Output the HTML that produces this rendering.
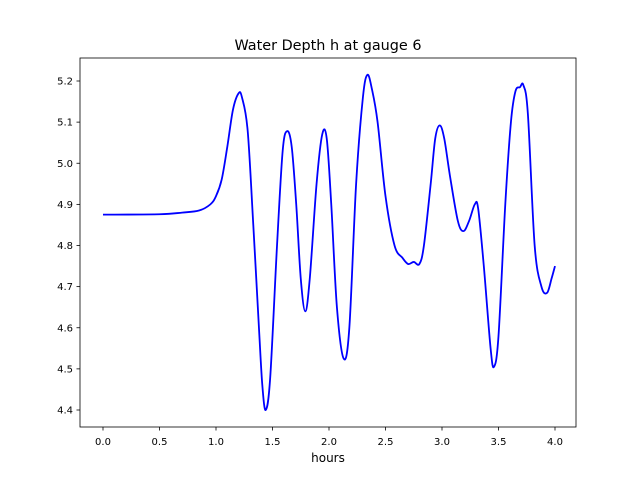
<!DOCTYPE html>
<html><head><meta charset="utf-8"><style>
body{margin:0;background:#fff}
svg{font-family:"DejaVu Sans","Liberation Sans",sans-serif}
</style></head><body>
<svg id="chart" width="640" height="480" viewBox="0 0 640 480">
<rect width="640" height="480" fill="#fff"/>
<text x="328" y="50" font-size="14.4" text-anchor="middle">Water Depth h at gauge 6</text>
<g id="xt"></g>
<g id="yt"></g>
<path id="line" fill="none" stroke="#0000ff" stroke-width="1.8"/>
<rect x="80" y="58" width="496" height="369" fill="none" stroke="#000" stroke-width="0.8"/>
<text x="328" y="462" font-size="12" text-anchor="middle">hours</text>
</svg>
<script>
const hours=[0,0.5,0.7,0.85,0.95,1.0,1.05,1.1,1.15,1.2,1.23,1.28,1.33,1.38,1.41,1.44,1.48,1.54,1.59,1.63,1.67,1.71,1.75,1.79,1.83,1.89,1.94,1.98,2.02,2.07,2.13,2.18,2.24,2.3,2.34,2.38,2.43,2.5,2.58,2.65,2.7,2.75,2.8,2.84,2.9,2.94,2.98,3.02,3.07,3.14,3.19,3.24,3.29,3.32,3.37,3.43,3.46,3.5,3.56,3.61,3.65,3.69,3.72,3.76,3.82,3.88,3.93,3.97,4.0];
const depth=[4.875,4.876,4.88,4.885,4.9,4.92,4.96,5.04,5.13,5.17,5.16,5.08,4.85,4.6,4.46,4.4,4.48,4.8,5.03,5.078,5.04,4.9,4.72,4.64,4.72,4.95,5.07,5.06,4.9,4.65,4.525,4.6,4.95,5.16,5.215,5.18,5.1,4.92,4.8,4.77,4.755,4.76,4.755,4.8,4.95,5.06,5.092,5.06,4.97,4.86,4.835,4.86,4.9,4.89,4.75,4.55,4.505,4.58,4.9,5.1,5.175,5.185,5.19,5.12,4.8,4.7,4.685,4.72,4.75];
const xTicks=[0,0.5,1,1.5,2,2.5,3,3.5,4];
const yTicks=[4.4,4.5,4.6,4.7,4.8,4.9,5.0,5.1,5.2];
const X=v=>103+v*113, Y=v=>410-(v-4.4)*411.25;
const ns="http://www.w3.org/2000/svg";
function mk(t,a,p){const e=document.createElementNS(ns,t);for(const k in a)e.setAttribute(k,a[k]);p.appendChild(e);return e;}
const xg=document.getElementById('xt'),yg=document.getElementById('yt');
xTicks.forEach(v=>{const x=X(v);
const l=mk('line',{x1:x,x2:x,y1:427,y2:430.5,stroke:'#000','stroke-width':0.8},xg);


const t=mk('text',{x:x,y:445,'font-size':10,'text-anchor':'middle'},xg);t.textContent=v.toFixed(1);

});
yTicks.forEach(v=>{const y=Y(v);
const l=mk('line',{x1:76.5,x2:80,y1:y,y2:y,stroke:'#000','stroke-width':0.8},yg);


const t=mk('text',{x:73,y:y+3.5,'font-size':10,'text-anchor':'end'},yg);t.textContent=v.toFixed(1);

});
const P=hours.map((h,i)=>[X(h),Y(depth[i])]);
let d='M'+P[0][0]+','+P[0][1];
for(let i=0;i<P.length-1;i++){const p0=P[Math.max(i-1,0)],p1=P[i],p2=P[i+1],p3=P[Math.min(i+2,P.length-1)];
d+=' C'+(p1[0]+(p2[0]-p0[0])/6)+','+(p1[1]+(p2[1]-p0[1])/6)+' '+(p2[0]-(p3[0]-p1[0])/6)+','+(p2[1]-(p3[1]-p1[1])/6)+' '+p2[0]+','+p2[1];}
document.getElementById('line').setAttribute('d',d);
</script>
</body></html>
